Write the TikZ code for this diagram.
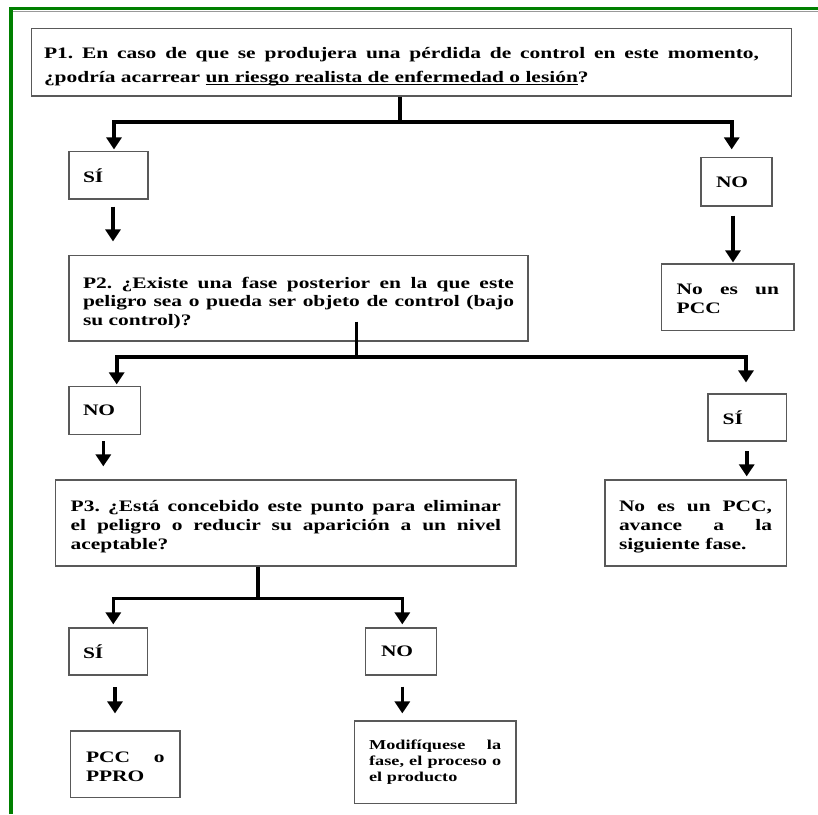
\documentclass[tikz,border=0pt]{standalone}
\usepackage{fontspec}
\newfontfamily\tfont[FakeStretch=1.34]{Liberation Serif}
\usetikzlibrary{arrows.meta}
\definecolor{frameg}{RGB}{0,128,0}
\newcommand\jline[2]{{\spaceskip=0pt\xspaceskip=0pt\makebox[#1][s]{#2}}}
\newcommand\myul[1]{\setbox0\hbox{#1}\rlap{\rule[-2.6pt]{\wd0}{1.1pt}}\box0}
\newcommand\lift[1]{\rule{0pt}{#1}}
\begin{document}
\begin{tikzpicture}[x=1pt,y=-1pt,
  box/.style={draw=black!65, line width=1.2pt, rectangle, inner sep=0pt, align=flush left,
    font=\tfont\bfseries\fontsize{16}{19}\selectfont\frenchspacing},
  conn/.style={line width=3.6pt, black},
  arr/.style={conn, -{Triangle[width=15pt,length=12pt]}}]
\useasboundingbox (0,0) rectangle (818,814);
\fill[white] (0,0) rectangle (818,814);
% frame
\draw[frameg, line width=3.6pt] (10.8,814) -- (10.8,8.5) -- (818,8.5);
\draw[black!40, line width=1.4pt] (12.6,11.6) -- (818,11.6);

% nodes
\node[box, minimum width=759.6pt, minimum height=67.7pt, text width=735pt,
  font=\tfont\bfseries\fontsize{16}{24}\selectfont\frenchspacing] (p1) at (411.5,62.15)
  {\lift{21pt}\jline{715pt}{P1. En caso de que se produjera una pérdida de control en este momento,}\\
   ¿podría acarrear \myul{un riesgo realista de enfermedad o lesión}?};
\node[box, minimum width=79pt, minimum height=47.3pt, text width=51pt] (si1) at (108.5,175.35) {SÍ};
\node[box, minimum width=71pt, minimum height=48.3pt, text width=41pt] (no1) at (736.5,181.85) {NO};
\node[box, minimum width=132.3pt, minimum height=66.7pt, text width=102.3pt] (nopcc1) at (727.85,297.35)
  {\lift{14pt}\jline{102.3pt}{No es un}\\PCC};
\node[box, minimum width=459pt, minimum height=85.3pt, text width=431pt,
  font=\tfont\bfseries\fontsize{16}{18.4}\selectfont\frenchspacing] (p2) at (298.5,298.35)
  {\lift{20pt}\jline{431pt}{P2. ¿Existe una fase posterior en la que este}\\
   \jline{431pt}{peligro sea o pueda ser objeto de control (bajo}\\
   su control)?};
\node[box, minimum width=71.7pt, minimum height=47.6pt, text width=43.7pt] (no2) at (104.85,410.5) {NO};
\node[box, minimum width=78.7pt, minimum height=47pt, text width=49.3pt] (si2) at (747.35,417.5) {SÍ};
\node[box, minimum width=460.3pt, minimum height=86pt, text width=430.3pt,
  font=\tfont\bfseries\fontsize{16}{18.8}\selectfont\frenchspacing] (p3) at (285.85,523)
  {\lift{18pt}\jline{430.3pt}{P3. ¿Está concebido este punto para eliminar}\\
   \jline{430.3pt}{el peligro o reducir su aparición a un nivel}\\
   aceptable?};
\node[box, minimum width=181.7pt, minimum height=86pt, text width=153.7pt,
  font=\tfont\bfseries\fontsize{16}{18.8}\selectfont\frenchspacing] (nopcc2) at (695.85,523)
  {\lift{18pt}\jline{153pt}{No es un PCC,}\\
   \jline{153pt}{avance a la}\\
   siguiente fase.};
\node[box, minimum width=78.7pt, minimum height=47pt, text width=50.7pt] (si3) at (108.35,651.5) {SÍ};
\node[box, minimum width=71pt, minimum height=47pt, text width=40.4pt] (no3) at (401.2,651.5) {NO};
\node[box, minimum width=109.3pt, minimum height=66.7pt, text width=78.7pt,
  font=\tfont\bfseries\fontsize{16}{19.3}\selectfont\frenchspacing] (pcc) at (125.35,764.35)
  {\lift{16pt}\jline{78.7pt}{PCC o}\\PPRO};
\node[box, minimum width=161.7pt, minimum height=82.3pt, text width=132pt,
  font=\tfont\bfseries\fontsize{13.6}{16.2}\selectfont\frenchspacing] (mod) at (435.15,762.15)
  {\jline{132pt}{Modifíquese la}\\
   \jline{132pt}{fase, el proceso o}\\
   el producto};

% helper coordinates
\coordinate (j1) at (400,121.7);
\coordinate (xa) at (114,0);
\coordinate (xb) at (731.7,0);
\coordinate (xc) at (113,0);
\coordinate (xd) at (733,0);
\coordinate (s2) at (356.3,321.7);
\coordinate (j2) at (356.3,357);
\coordinate (xf) at (116.7,0);
\coordinate (xg) at (746,0);
\coordinate (xh) at (103.3,0);
\coordinate (xi) at (746.7,0);
\coordinate (j3) at (258,598.3);
\coordinate (xk) at (113.3,0);
\coordinate (xl) at (402.3,0);
\coordinate (xm) at (115,0);

% connectors
\draw[conn] (p1.south -| j1) -- (j1);
\draw[arr, shorten >=1.7pt] (j1) -| (si1.north -| xa);
\draw[arr, shorten >=7.7pt] (j1) -| (no1.north -| xb);
\draw[arr, shorten <=7pt, shorten >=13.7pt] (si1.south -| xc) -- (p2.north -| xc);
\draw[arr, shorten <=9pt, shorten >=1pt] (no1.south -| xd) -- (nopcc1.north -| xd);

\draw[conn] (s2) -- (j2);
\draw[arr, shorten >=1.7pt] (j2) -| (no2.north -| xf);
\draw[arr, shorten >=11pt] (j2) -| (si2.north -| xg);
\draw[arr, shorten <=6.4pt, shorten >=13pt] (no2.south -| xh) -- (p3.north -| xh);
\draw[arr, shorten <=9.7pt, shorten >=3pt] (si2.south -| xi) -- (nopcc2.north -| xi);

\draw[conn] (p3.south -| j3) -- (j3);
\draw[arr, shorten >=3pt] (j3) -| (si3.north -| xk);
\draw[arr, shorten >=3pt] (j3) -| (no3.north -| xl);
\draw[arr, shorten <=11.7pt, shorten >=17pt] (si3.south -| xm) -- (pcc.north -| xm);
\draw[arr, shorten <=11pt, shorten >=7pt] (no3.south -| xl) -- (mod.north -| xl);
\end{tikzpicture}
\end{document}
